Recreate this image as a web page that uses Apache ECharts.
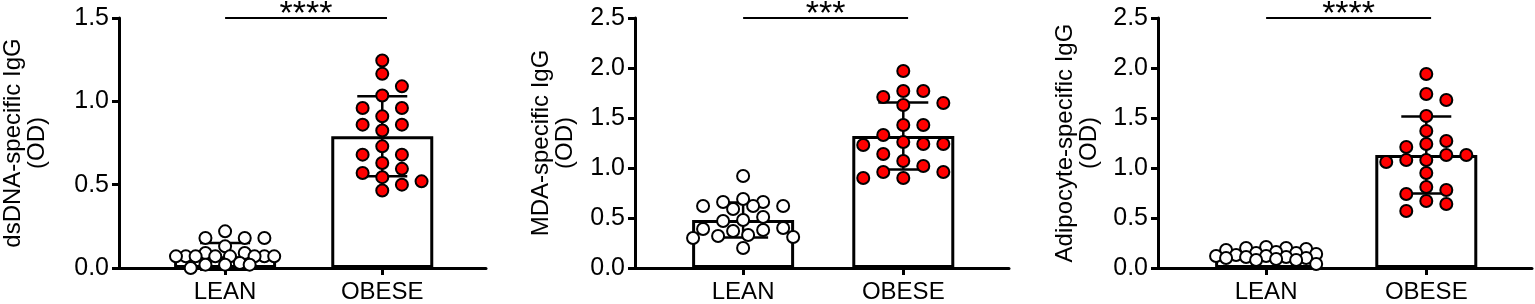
<!DOCTYPE html>
<html>
<head>
<meta charset="utf-8">
<script src="https://cdn.jsdelivr.net/npm/echarts@6/dist/echarts.min.js"></script>
<style>
  html, body { margin: 0; padding: 0; background: #fff; }
  #chart { width: 1535px; height: 304px; }
</style>
</head>
<body>
<div id="chart"></div>
<script>
// groups on the x axis
const categories = ['LEAN', 'OBESE'];

// dsDNA-specific IgG (OD)
const dsdnaLean = [0.22, 0.18, 0.18, 0.18, 0.13, 0.09, 0.09, 0.07, 0.07, 0.07, 0.07, 0.07, 0.07, 0.07, 0.07, 0.03, 0.02, 0.02, 0.02, 0.0];
const dsdnaObese = [1.245, 1.165, 1.09, 1.035, 0.96, 0.96, 0.91, 0.86, 0.86, 0.825, 0.73, 0.68, 0.68, 0.63, 0.595, 0.57, 0.545, 0.52, 0.50, 0.465];
const dsdnaMean = [0.07, 0.79];
const dsdnaSd = [0.08, 0.24];

// MDA-specific IgG (OD)
const mdaLean = [0.92, 0.69, 0.66, 0.66, 0.62, 0.62, 0.62, 0.59, 0.51, 0.48, 0.47, 0.40, 0.39, 0.38, 0.37, 0.33, 0.32, 0.31, 0.30, 0.20];
const mdaObese = [1.97, 1.77, 1.77, 1.71, 1.65, 1.63, 1.43, 1.43, 1.33, 1.26, 1.24, 1.24, 1.23, 1.14, 1.07, 1.02, 0.96, 0.96, 0.90, 0.90];
const mdaMean = [0.48, 1.32];
const mdaSd = [0.175, 0.335];

// Adipocyte-specific IgG (OD)
const adipoLean = [0.21, 0.20, 0.20, 0.19, 0.18, 0.16, 0.15, 0.15, 0.14, 0.13, 0.12, 0.12, 0.11, 0.11, 0.10, 0.10, 0.09, 0.08, 0.08, 0.04];
const adipoObese = [1.94, 1.74, 1.68, 1.52, 1.37, 1.27, 1.24, 1.21, 1.13, 1.13, 1.08, 1.08, 1.06, 0.95, 0.81, 0.78, 0.74, 0.67, 0.64, 0.57];
const adipoMean = [0.12, 1.13];
const adipoSd = [0.04, 0.385];

// axis tops, names and significance marks
const yMaxes = [1.5, 2.5, 2.5];
const yNames = ['dsDNA-specific IgG\n(OD)', 'MDA-specific IgG\n(OD)', 'Adipocyte-specific IgG\n(OD)'];
const stars = ['****', '***', '****'];

const panels = [
  { lean: dsdnaLean, obese: dsdnaObese, mean: dsdnaMean, sd: dsdnaSd },
  { lean: mdaLean, obese: mdaObese, mean: mdaMean, sd: mdaSd },
  { lean: adipoLean, obese: adipoObese, mean: adipoMean, sd: adipoSd }
];

const FONT = "'Liberation Sans', Arial, sans-serif";
const PLOT_H = 250;     // grid height in px
const CAT_PX = 160;     // px between the two groups
const X_MIN = -0.675, X_MAX = 1.66;

// spread points sideways so they don't sit on top of each other (like a dot plot)
function swarm(values, pxPerUnit) {
  const D = 13;
  const cand = [0, 20, -20, 40, -40, 10, -10, 30, -30, 50, -50, 5, -5, 15, -15, 25, -25, 35, -35, 45, -45];
  const placed = [];
  const out = new Array(values.length);
  const order = values.map((v, i) => i).sort((a, b) => values[b] - values[a]);
  order.forEach(i => {
    const y = values[i] * pxPerUnit;
    let best = 0, bestGap = -1;
    for (const dx of cand) {
      let gap = Infinity;
      placed.forEach(p => { gap = Math.min(gap, Math.hypot(p[0] - dx, p[1] - y)); });
      if (gap >= D) { best = dx; break; }
      if (gap > bestGap) { bestGap = gap; best = dx; }
    }
    placed.push([best, y]);
    out[i] = best;
  });
  return out;
}

const gridLefts = [112, 635, 1158];
const nameGaps = [70, 58, 57];

const grids = [], xAxes = [], yAxes = [], series = [];

panels.forEach((p, k) => {
  const yMax = yMaxes[k];
  grids.push({ left: gridLefts[k], top: 18, width: 374, height: PLOT_H });

  xAxes.push({
    type: 'value', gridIndex: k, min: X_MIN, max: X_MAX,
    splitLine: { show: false },
    axisLine: { show: true, onZero: false, lineStyle: { color: '#000', width: 3 } },
    axisTick: { show: true, customValues: [0, 1], length: 7, lineStyle: { color: '#000', width: 3 } },
    axisLabel: {
      customValues: [0, 1], margin: 12,
      formatter: v => categories[Math.round(v)],
      color: '#000', fontSize: 24, fontFamily: FONT
    }
  });

  yAxes.push({
    type: 'value', gridIndex: k, min: 0, max: yMax, interval: 0.5,
    name: yNames[k], nameLocation: 'middle', nameGap: nameGaps[k],
    nameTextStyle: { color: '#000', fontSize: 24, fontFamily: FONT, lineHeight: 24 },
    splitLine: { show: false },
    axisLine: { show: true, onZero: false, lineStyle: { color: '#000', width: 3 } },
    axisTick: { show: true, length: 7, lineStyle: { color: '#000', width: 3 } },
    axisLabel: { formatter: v => v.toFixed(1), color: '#000', fontSize: 25, fontFamily: FONT, margin: 10 }
  });

  // mean bars
  series.push({
    type: 'bar', xAxisIndex: k, yAxisIndex: k, z: 1,
    barWidth: 102,
    itemStyle: { color: '#fff', borderColor: '#000', borderWidth: 3 },
    data: p.mean.map((m, i) => [i, m])
  });

  // SD error bars
  series.push({
    type: 'custom', xAxisIndex: k, yAxisIndex: k, z: 2,
    data: p.mean.map((m, i) => [i, m, p.sd[i]]),
    renderItem: (params, api) => {
      const x = api.value(0), m = api.value(1), s = api.value(2);
      const top = api.coord([x, m + s]);
      const bot = api.coord([x, m - s]);
      const st = { stroke: '#000', lineWidth: 2.5 };
      return {
        type: 'group',
        children: [
          { type: 'line', shape: { x1: top[0], y1: top[1], x2: bot[0], y2: bot[1] }, style: st },
          { type: 'line', shape: { x1: top[0] - 25, y1: top[1], x2: top[0] + 25, y2: top[1] }, style: st },
          { type: 'line', shape: { x1: bot[0] - 25, y1: bot[1], x2: bot[0] + 25, y2: bot[1] }, style: st }
        ]
      };
    }
  });

  // significance line between the groups, with stars above it
  series.push({
    type: 'custom', xAxisIndex: k, yAxisIndex: k, z: 2, silent: true,
    data: [[0, yMax]],
    renderItem: (params, api) => {
      const a = api.coord([0, yMax]);
      const b = api.coord([1.03, yMax]);
      return {
        type: 'group',
        children: [
          { type: 'line', shape: { x1: a[0], y1: a[1], x2: b[0], y2: b[1] }, style: { stroke: '#000', lineWidth: 2 } },
          {
            type: 'text',
            style: {
              text: stars[k], x: (a[0] + b[0]) / 2, y: a[1] - 3,
              align: 'center', verticalAlign: 'middle',
              fill: '#000', fontSize: 34, fontFamily: FONT
            }
          }
        ]
      };
    }
  });

  // individual points
  const pxPerUnit = PLOT_H / yMax;
  [p.lean, p.obese].forEach((vals, g) => {
    const offs = swarm(vals, pxPerUnit);
    series.push({
      type: 'scatter', xAxisIndex: k, yAxisIndex: k, z: 3,
      symbol: 'circle', symbolSize: 12,
      itemStyle: { color: g === 0 ? '#fff' : '#ff0000', borderColor: '#000', borderWidth: 2, opacity: 1 },
      data: vals.map((v, i) => [g + offs[i] / CAT_PX, v])
    });
  });
});

const chart = echarts.init(document.getElementById('chart'));
chart.setOption({
  animation: false,
  backgroundColor: '#fff',
  grid: grids,
  xAxis: xAxes,
  yAxis: yAxes,
  series: series
});
</script>
</body>
</html>
